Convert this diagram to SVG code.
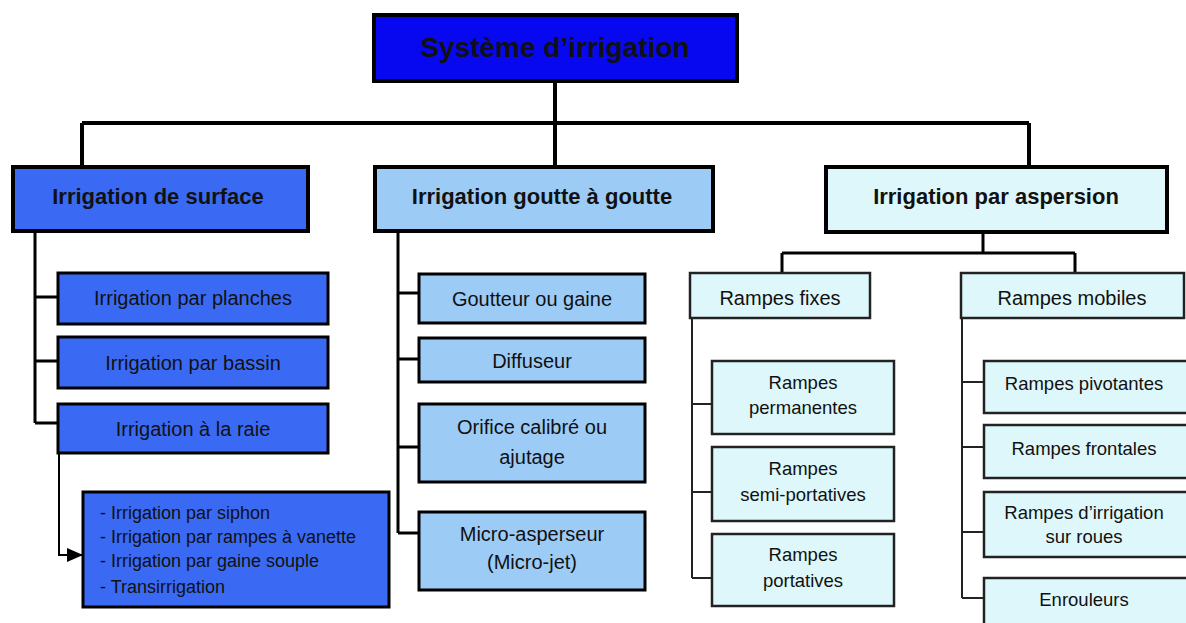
<svg xmlns="http://www.w3.org/2000/svg" width="1186" height="623" viewBox="0 0 1186 623">
<style>
  .t{font-family:"Liberation Sans",Arial,sans-serif;fill:#111;text-anchor:middle}
  .hd{font-weight:bold;font-size:22px}
  .sub{font-size:20px}
  .sr{font-size:18.5px}
  .sm{font-size:18px;text-anchor:start}
  .b0{fill:#0808f0;stroke:#000;stroke-width:4}
  .b1{fill:#3a6af4;stroke:#000;stroke-width:4}
  .b1s{fill:#3a6af4;stroke:#000;stroke-width:3}
  .b2{fill:#9ccbf6;stroke:#000;stroke-width:4}
  .b2s{fill:#9ccbf6;stroke:#000;stroke-width:3}
  .b3{fill:#def7fa;stroke:#000;stroke-width:4}
  .b3s{fill:#def7fa;stroke:#222;stroke-width:2.5}
  .c4{fill:none;stroke:#000;stroke-width:4}
  .c3{fill:none;stroke:#000;stroke-width:3}
  .c2{fill:none;stroke:#222;stroke-width:2}
</style>
<defs>
  <marker id="arr" markerWidth="16" markerHeight="14" refX="15" refY="7" orient="auto" markerUnits="userSpaceOnUse">
    <path d="M0,0 L16,7 L0,14 Z" fill="#000"/>
  </marker>
</defs>
<rect width="1186" height="623" fill="#fff"/>

<g id="connectors">
  <path class="c4" d="M555,81 V123 M82,123 H1029 M82,123 V167 M555,123 V167 M1029,123 V167"/>
  <path class="c3" d="M35,231 V423 M35,297 H58 M35,361 H58 M35,423 H58"/>
  <path class="c3" d="M398,231 V533 M398,293 H419 M398,359 H419 M398,447 H419 M398,533 H419"/>
  <path class="c3" d="M983,232 V253 M782,253 H1075 M782,253 V273 M1075,253 V273"/>
  <path class="c2" d="M692,318 V578 M692,404 H712 M692,492 H712 M692,578 H712"/>
  <path class="c2" d="M962,318 V598 M962,382 H984 M962,447 H984 M962,532 H984 M962,598 H984"/>
  <path fill="none" stroke="#000" stroke-width="2" d="M59,453 V555 H82" marker-end="url(#arr)"/>
</g>

<g id="n-root">
  <rect class="b0" x="374" y="15" width="363" height="66"/>
  <text class="t hd" x="555" y="57" style="font-size:28px">Système d’irrigation</text>
</g>

<g id="n-surface">
  <rect class="b1" x="13" y="167" width="295" height="64"/>
  <text class="t hd" x="158" y="204">Irrigation de surface</text>
</g>
<g id="n-goutte">
  <rect class="b2" x="375" y="167" width="338" height="64"/>
  <text class="t hd" x="542" y="204">Irrigation goutte à goutte</text>
</g>
<g id="n-aspersion">
  <rect class="b3" x="826" y="167" width="341" height="65"/>
  <text class="t hd" x="996" y="204">Irrigation par aspersion</text>
</g>

<g id="n-planches">
  <rect class="b1s" x="58" y="273" width="270" height="51"/>
  <text class="t sub" x="193" y="305">Irrigation par planches</text>
</g>
<g id="n-bassin">
  <rect class="b1s" x="58" y="337" width="270" height="51"/>
  <text class="t sub" x="193" y="370">Irrigation par bassin</text>
</g>
<g id="n-raie">
  <rect class="b1s" x="58" y="404" width="270" height="49"/>
  <text class="t sub" x="193" y="436">Irrigation à la raie</text>
</g>
<g id="n-raie-list">
  <rect class="b1s" x="83" y="492" width="306" height="115"/>
  <text class="t sm" x="100" y="519">- Irrigation par siphon</text>
  <text class="t sm" x="100" y="543">- Irrigation par rampes à vanette</text>
  <text class="t sm" x="100" y="567">- Irrigation par gaine souple</text>
  <text class="t sm" x="100" y="593">- Transirrigation</text>
</g>

<g id="n-goutteur">
  <rect class="b2s" x="419" y="274" width="226" height="49"/>
  <text class="t sub" x="532" y="306">Goutteur ou gaine</text>
</g>
<g id="n-diffuseur">
  <rect class="b2s" x="419" y="338" width="226" height="44"/>
  <text class="t sub" x="532" y="368">Diffuseur</text>
</g>
<g id="n-orifice">
  <rect class="b2s" x="419" y="404" width="226" height="78"/>
  <text class="t sub" x="532" y="434">Orifice calibré ou</text>
  <text class="t sub" x="532" y="464">ajutage</text>
</g>
<g id="n-micro">
  <rect class="b2s" x="419" y="512" width="226" height="78"/>
  <text class="t sub" x="532" y="541">Micro-asperseur</text>
  <text class="t sub" x="532" y="569">(Micro-jet)</text>
</g>

<g id="n-fixes">
  <rect class="b3s" x="690" y="273" width="180" height="45"/>
  <text class="t sub" x="780" y="305">Rampes fixes</text>
</g>
<g id="n-mobiles">
  <rect class="b3s" x="961" y="273" width="223" height="45"/>
  <text class="t sub" x="1072" y="305">Rampes mobiles</text>
</g>

<g id="n-permanentes">
  <rect class="b3s" x="712" y="361" width="182" height="73"/>
  <text class="t sr" x="803" y="389">Rampes</text>
  <text class="t sr" x="803" y="414">permanentes</text>
</g>
<g id="n-semi">
  <rect class="b3s" x="712" y="447" width="182" height="74"/>
  <text class="t sr" x="803" y="475">Rampes</text>
  <text class="t sr" x="803" y="501">semi-portatives</text>
</g>
<g id="n-portatives">
  <rect class="b3s" x="712" y="534" width="182" height="72"/>
  <text class="t sr" x="803" y="561">Rampes</text>
  <text class="t sr" x="803" y="587">portatives</text>
</g>

<g id="n-pivotantes">
  <rect class="b3s" x="984" y="361" width="210" height="52"/>
  <text class="t sr" x="1084" y="390">Rampes pivotantes</text>
</g>
<g id="n-frontales">
  <rect class="b3s" x="984" y="425" width="210" height="53"/>
  <text class="t sr" x="1084" y="455">Rampes frontales</text>
</g>
<g id="n-roues">
  <rect class="b3s" x="984" y="492" width="210" height="65"/>
  <text class="t sr" x="1084" y="519">Rampes d’irrigation</text>
  <text class="t sr" x="1084" y="543">sur roues</text>
</g>
<g id="n-enrouleurs">
  <rect class="b3s" x="984" y="578" width="210" height="60"/>
  <text class="t sr" x="1084" y="606">Enrouleurs</text>
</g>
</svg>
